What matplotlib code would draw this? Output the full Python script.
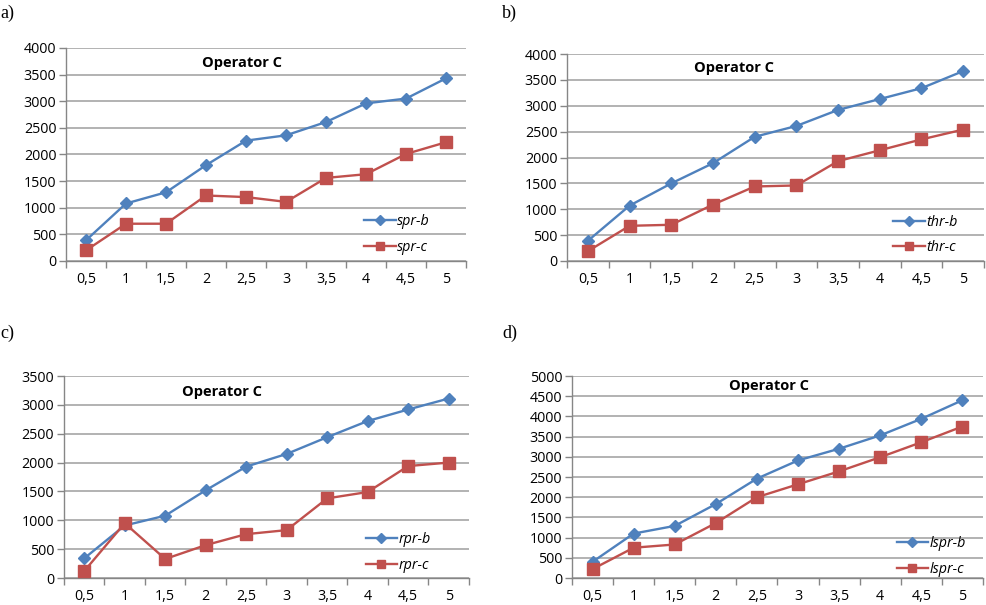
import matplotlib
matplotlib.use("Agg")
import matplotlib.pyplot as plt
import numpy as np

categories = ["0,5", "1", "1,5", "2", "2,5", "3", "3,5", "4", "4,5", "5"]

spr_b = [390, 1080, 1290, 1800, 2260, 2360, 2610, 2960, 3050, 3430]
spr_c = [200, 700, 700, 1230, 1200, 1110, 1560, 1630, 2010, 2230]

thr_b = [390, 1070, 1500, 1890, 2400, 2610, 2920, 3130, 3340, 3670]
thr_c = [190, 680, 700, 1090, 1440, 1460, 1930, 2140, 2350, 2540]

rpr_b = [340, 910, 1080, 1520, 1930, 2150, 2440, 2720, 2920, 3110]
rpr_c = [120, 950, 330, 570, 760, 830, 1380, 1490, 1940, 2000]

lspr_b = [400, 1100, 1290, 1830, 2460, 2910, 3200, 3530, 3940, 4400]
lspr_c = [220, 750, 830, 1360, 2000, 2320, 2640, 2990, 3360, 3750]

title = "Operator C"

BLUE = "#4F81BD"
RED = "#C0504D"
GRID = "#A6A6A6"
AXIS = "#868686"
FONT = "Open Sans"

fig = plt.figure(figsize=(9.87, 6.05), dpi=100)

panels = [
    ([0.0669, 0.5686, 0.4053, 0.3521], spr_b, spr_c, ("spr-b", "spr-c"), 4000, 500,
     (0.44, 0.93), (0.745, 0.125), "a)", (0.0, 0.978)),
    ([0.5745, 0.5686, 0.4225, 0.3421], thr_b, thr_c, ("thr-b", "thr-c"), 4000, 500,
     (0.40, 0.932), (0.782, 0.125), "b)", (0.509, 0.978)),
    ([0.0648, 0.0446, 0.4103, 0.3339], rpr_b, rpr_c, ("rpr-b", "rpr-c"), 3500, 500,
     (0.39, 0.92), (0.745, 0.125), "c)", (0.0, 0.449)),
    ([0.5795, 0.0446, 0.4164, 0.3339], lspr_b, lspr_c, ("lspr-b", "lspr-c"), 5000, 500,
     (0.48, 0.95), (0.79, 0.105), "d)", (0.509, 0.449)),
]

for rect, b, c, names, ymax, step, tpos, lpos, lab, labpos in panels:
    ax = fig.add_axes(rect)
    x = np.arange(len(categories))
    ax.plot(x, b, color=BLUE, lw=1.7, marker="D", ms=6, mfc=BLUE, mec=BLUE, label=names[0], zorder=3)
    ax.plot(x, c, color=RED, lw=1.7, marker="s", ms=8, mfc=RED, mec=RED, label=names[1], zorder=3)
    ax.set_xlim(-0.5, len(categories) - 0.5)
    ax.set_ylim(0, ymax)
    yt = np.arange(0, ymax + 1, step)
    ax.set_yticks(yt)
    ax.set_yticklabels([str(int(v)) for v in yt], fontfamily=FONT, fontsize=10.3)
    ax.set_xticks(x)
    ax.set_xticklabels(categories, fontfamily=FONT, fontsize=10.3)
    ax.set_xticks(np.arange(-0.5, len(categories)), minor=True)
    ax.tick_params(axis="x", which="major", length=0, pad=8)
    ax.tick_params(axis="x", which="minor", length=5, color=AXIS, width=1)
    ax.tick_params(axis="y", which="major", length=5, color=AXIS, width=1, pad=2)
    ax.grid(axis="y", color=GRID, lw=1.2, zorder=0)
    for s in ("top", "right"):
        ax.spines[s].set_visible(False)
    for s in ("left", "bottom"):
        ax.spines[s].set_color(AXIS)
        ax.spines[s].set_linewidth(1)
    ax.text(tpos[0], tpos[1], title, transform=ax.transAxes, ha="center", va="center",
            fontfamily=FONT, fontweight="bold", fontsize=10.5)
    ax.legend(loc="center left", bbox_to_anchor=lpos, frameon=False,
              prop={"family": FONT, "style": "italic", "size": 10.3},
              handlelength=2.2, handletextpad=0.1, labelspacing=0.75,
              borderaxespad=0, borderpad=0, markerscale=0.8)
    fig.text(labpos[0], labpos[1], lab, ha="left", va="center",
             fontfamily="Liberation Serif", fontsize=13)

fig.savefig("out.png", dpi=100)
